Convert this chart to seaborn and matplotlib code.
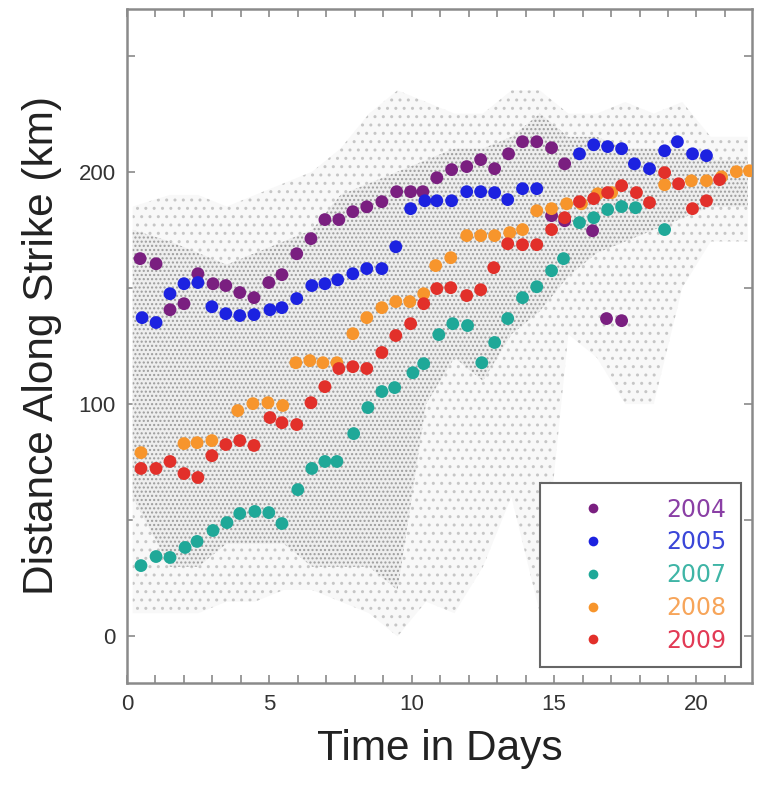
import numpy as np
import pandas as pd
import matplotlib
matplotlib.use("Agg")
import matplotlib.pyplot as plt
import seaborn as sns
from matplotlib.lines import Line2D

# ---------------- data ----------------
years = ["2004", "2005", "2007", "2008", "2009"]
colors = ["#7a1f80", "#1c22e0", "#1fa898", "#f7952c", "#e2302a"]
label_colors = ["#8a3fa5", "#3a46d8", "#3fb5a6", "#f7a55a", "#e23a55"]

t04 = [0.46, 1.02, 1.51, 2.0, 2.49, 3.02, 3.47, 3.96, 4.46, 4.98, 5.44, 5.96, 6.46, 6.95,
       7.44, 7.93, 8.42, 8.95, 9.47, 9.96, 10.39, 10.88, 11.40, 11.93, 12.42, 12.91, 13.40,
       13.89, 14.39, 14.91, 15.37, 14.91, 15.37, 16.35, 16.84, 17.37]
d04 = [162.6, 160.4, 140.6, 143.2, 156.1, 151.8, 151.0, 148.0, 145.8, 152.3, 155.7, 164.7,
       171.2, 179.4, 179.4, 182.8, 184.9, 187.1, 191.4, 191.4, 191.4, 197.4, 200.9, 202.2,
       205.2, 201.3, 207.7, 212.9, 212.9, 210.3, 203.4, 181.1, 178.9, 174.6, 136.8, 135.9]

t05 = [0.53, 1.02, 1.51, 2.0, 2.49, 2.98, 3.47, 3.96, 4.46, 5.02, 5.44, 5.96, 6.49, 6.95,
       7.40, 7.93, 8.42, 8.95, 9.44, 9.96, 10.46, 10.88, 11.40, 11.93, 12.42, 12.91, 13.37,
       13.89, 14.39, 15.89, 16.39, 16.88, 17.37, 17.82, 18.35, 18.88, 19.33, 19.86, 20.35]
d05 = [137.2, 135.1, 147.5, 151.8, 152.3, 141.9, 138.9, 138.1, 138.5, 140.6, 141.5, 145.4,
       151.0, 151.8, 153.5, 156.1, 158.3, 158.3, 167.7, 184.1, 187.5, 187.5, 187.5, 191.4,
       191.4, 191.0, 188.0, 192.7, 192.7, 207.7, 211.6, 210.8, 209.9, 203.4, 201.3, 209.0,
       212.9, 207.7, 206.9]

t07 = [0.49, 1.02, 1.51, 2.04, 2.46, 3.02, 3.51, 3.96, 4.49, 4.98, 5.44, 6.0, 6.49, 6.95,
       7.37, 7.96, 8.46, 8.95, 9.40, 10.04, 10.42, 10.95, 11.44, 11.96, 12.46, 12.91, 13.37,
       13.89, 14.39, 14.91, 15.33, 15.89, 16.39, 16.88, 17.37, 17.86, 18.88]
d07 = [30.5, 34.4, 34.0, 38.3, 40.9, 45.6, 49.0, 52.9, 53.8, 53.3, 48.6, 63.2, 72.3, 75.3,
       75.3, 87.3, 98.5, 105.4, 107.1, 113.5, 117.4, 129.9, 134.6, 133.8, 117.8, 126.5,
       136.8, 145.8, 150.5, 157.4, 162.6, 178.1, 180.2, 183.7, 185.0, 184.5, 175.1]

t08 = [0.49, 2.0, 2.46, 2.98, 3.89, 4.42, 4.95, 5.47, 5.93, 6.42, 6.88, 7.37, 7.93, 8.42,
       8.95, 9.44, 9.93, 10.42, 10.84, 11.37, 11.93, 12.42, 12.91, 13.44, 13.89, 14.39,
       14.91, 15.44, 15.96, 16.53, 17.02, 18.88, 19.82, 20.35, 20.88, 21.40, 21.86]
d08 = [79.1, 83.0, 83.4, 84.3, 97.2, 100.2, 100.6, 99.4, 117.8, 118.7, 117.8, 117.8, 130.3,
       137.2, 141.5, 144.1, 144.1, 147.5, 159.6, 163.0, 172.5, 172.5, 172.5, 173.8, 175.1,
       183.2, 184.1, 186.2, 186.2, 190.5, 191.0, 194.4, 196.1, 196.1, 197.8, 200.0, 200.4]

t09 = [0.49, 1.02, 1.51, 2.0, 2.49, 2.98, 3.47, 3.96, 4.46, 5.02, 5.44, 5.96, 6.46, 6.95,
       7.44, 7.93, 8.42, 8.95, 9.44, 9.96, 10.42, 10.88, 11.37, 11.93, 12.42, 12.88, 13.37,
       13.89, 14.39, 14.91, 15.37, 15.89, 16.39, 16.88, 17.37, 17.89, 18.35, 18.88, 19.37,
       19.86, 20.35, 20.81]
d09 = [72.3, 72.3, 75.3, 70.1, 68.4, 77.8, 82.6, 84.3, 82.2, 94.2, 92.0, 91.2, 100.6, 107.5,
       115.3, 116.1, 115.3, 122.2, 129.5, 134.6, 143.2, 149.7, 150.1, 146.7, 149.2, 158.7,
       169.0, 168.6, 168.6, 175.1, 180.2, 187.1, 188.4, 191.0, 194.0, 191.0, 186.7, 199.6,
       194.8, 184.1, 187.5, 196.6]

# background tremor cloud: extent per day bin
cloud_t = [0.2, 1.5, 2.5, 3.5, 4.5, 5.5, 6.5, 7.5, 8.5, 9.5, 10.5, 11.5, 12.5, 13.5, 14.5,
           15.5, 16.5, 17.5, 18.5, 19.5, 20.5, 21.8]
dense_lo = [60, 30, 30, 40, 40, 40, 30, 30, 30, 20, 100, 120, 110, 130, 140, 155, 165, 170,
            175, 180, 185, 185]
dense_hi = [175, 170, 165, 160, 165, 170, 175, 190, 195, 200, 205, 210, 210, 215, 225, 215,
            215, 210, 210, 210, 205, 205]
sparse_lo = [10, 10, 10, 15, 15, 20, 20, 15, 10, 0, 15, 10, 30, 60, 10, 130, 120, 100, 100,
             150, 170, 170]
sparse_hi = [185, 190, 190, 185, 190, 195, 200, 210, 225, 235, 230, 225, 225, 235, 235, 225,
             225, 230, 225, 230, 215, 215]

# ---------------- build frame ----------------
frames = []
for yr, t, d in zip(years, [t04, t05, t07, t08, t09], [d04, d05, d07, d08, d09]):
    frames.append(pd.DataFrame({"t": t, "dist": d, "year": yr}))
df = pd.concat(frames, ignore_index=True)

sns.set_theme(style="white")
plt.rcParams["font.family"] = ["Liberation Sans", "DejaVu Sans"]
plt.rcParams["hatch.linewidth"] = 1.0

fig = plt.figure(figsize=(7.61, 7.85), dpi=100)
ax = fig.add_axes([0.1669, 0.130, 0.8213, 0.8585])

# cloud
ax.fill_between(cloud_t, sparse_lo, sparse_hi, facecolor="#f8f8f8",
                edgecolor="#c6c6c6", hatch="..", linewidth=0, zorder=1)
ax.fill_between(cloud_t, dense_lo, dense_hi, facecolor="#eeeeee",
                edgecolor="#9c9c9c", hatch="....", linewidth=0, zorder=1.5)

sns.scatterplot(data=df, x="t", y="dist", hue="year", hue_order=years,
                palette=dict(zip(years, colors)), s=85, edgecolor="none",
                linewidth=0, ax=ax, zorder=3, legend=False)

ax.set_xlim(0, 21.95)
ax.set_ylim(-20, 270)
ax.set_xticks(range(0, 22))
ax.set_xticklabels([str(i) if i % 5 == 0 else "" for i in range(0, 22)])
ax.set_yticks(range(0, 251, 50))
ax.set_yticklabels([str(v) if v % 100 == 0 else "" for v in range(0, 251, 50)])
ax.tick_params(direction="in", length=6, width=1.2, color="#8a8a8a",
               top=True, right=True, bottom=True, left=True,
               labelsize=16, labelcolor="#333333", pad=8)
for sp in ax.spines.values():
    sp.set_color("#8a8a8a")
    sp.set_linewidth(1.8)

ax.set_xlabel("Time in Days", fontsize=30.5, color="#222222", labelpad=10)
ax.set_ylabel("Distance Along Strike (km)", fontsize=30.5, color="#222222", labelpad=12)

# legend
handles = [Line2D([], [], marker="o", linestyle="none", markersize=7,
                  markerfacecolor=c, markeredgecolor="none") for c in colors]
leg = ax.legend(handles, years, loc="lower right", bbox_to_anchor=(0.982, 0.024),
                prop={"family": "DejaVu Sans", "size": 17},
                frameon=True, fancybox=False, borderpad=0.6,
                handletextpad=1.5, labelspacing=0.37, handlelength=3.25,
                borderaxespad=0)
for txt, c in zip(leg.get_texts(), label_colors):
    txt.set_color(c)
leg.get_frame().set_edgecolor("#666666")
leg.get_frame().set_linewidth(1.5)
leg.get_frame().set_facecolor("white")
leg.get_frame().set_alpha(1)
leg.set_zorder(5)

fig.savefig("out.png", dpi=100)
